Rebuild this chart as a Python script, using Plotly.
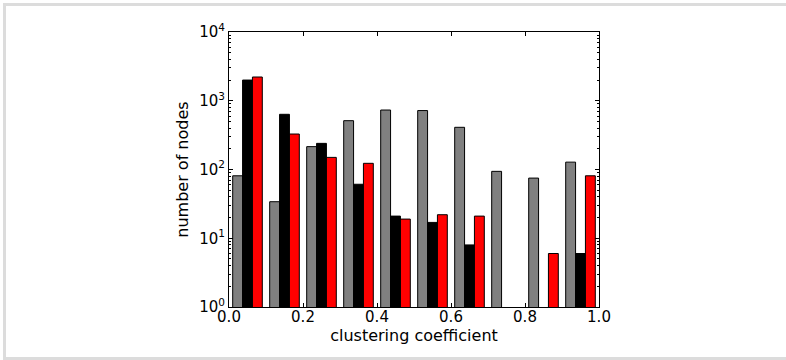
import plotly.graph_objects as go

bin_edges = [0.0, 0.1, 0.2, 0.3, 0.4, 0.5, 0.6, 0.7, 0.8, 0.9, 1.0]
series_names = ["gray", "black", "red"]
gray_counts = [81, 34, 215, 513, 733, 720, 411, 94, 75, 128]
black_counts = [2000, 635, 240, 61, 21, 17, 8, None, None, 6]
red_counts = [2215, 328, 150, 123, 19, 22, 21, None, 6, 81]
colors = ["#808080", "#000000", "#ff0000"]
y_tickvals = [1, 10, 100, 1000, 10000]
y_ticktext = ["10<sup>0</sup>", "10<sup>1</sup>", "10<sup>2</sup>", "10<sup>3</sup>", "10<sup>4</sup>"]
x_tickvals = [0.0, 0.2, 0.4, 0.6, 0.8, 1.0]
x_ticktext = ["0.0", "0.2", "0.4", "0.6", "0.8", "1.0"]

W, H = 786, 360
L, R, T, B = 229, 187, 32, 53
pw, ph = W - L - R, H - T - B

fig = go.Figure()
nser = 3
for i, (name, vals, col) in enumerate(zip(series_names, [gray_counts, black_counts, red_counts], colors)):
    xs, ws = [], []
    for k in range(len(bin_edges) - 1):
        bw = bin_edges[k + 1] - bin_edges[k]
        w = 0.8 * bw / nser
        xs.append(bin_edges[k] + 0.1 * bw + w * (i + 0.5))
        ws.append(w)
    fig.add_trace(go.Bar(x=xs, y=vals, width=ws, name=name,
                         marker=dict(color=col, line=dict(color="#000000", width=1))))

minor_vals = [m * 10 ** e for e in range(0, 4) for m in range(2, 10)]

fig.update_layout(
    width=W, height=H,
    margin=dict(l=L, r=R, t=T, b=B, pad=0),
    barmode="overlay",
    showlegend=False,
    plot_bgcolor="white", paper_bgcolor="white",
    font=dict(family="DejaVu Sans", color="#000000", size=15),
    xaxis=dict(range=[0, 1], tickvals=x_tickvals, ticktext=x_ticktext,
               ticks="inside", ticklen=4, tickwidth=1, tickcolor="black",
               showline=True, linecolor="black", linewidth=1, mirror="ticks",
               showgrid=False, zeroline=False, tickfont=dict(size=15),
               ticklabelstandoff=-4,
               title=dict(text="clustering coefficient", font=dict(size=16), standoff=2)),
    yaxis=dict(type="log", range=[0, 4], tickvals=y_tickvals, ticktext=y_ticktext,
               ticks="inside", ticklen=4, tickwidth=1, tickcolor="black",
               showline=True, linecolor="black", linewidth=1, mirror="ticks",
               showgrid=False, zeroline=False, tickfont=dict(size=15),
               minor=dict(tickvals=minor_vals, ticks="inside", ticklen=2, tickcolor="black", showgrid=False),
               title=dict(text="number of nodes", font=dict(size=16), standoff=6)),
)

def px_to_paper(x, y):
    return (x - L) / pw, (H - B - y) / ph

x0, y0 = px_to_paper(4.5, 4.5)
x1, y1 = px_to_paper(790, 358.5)
fig.add_shape(type="rect", xref="paper", yref="paper", x0=x0, y0=y1, x1=x1, y1=y0,
              line=dict(color="#dcdcdc", width=3), fillcolor="rgba(0,0,0,0)", layer="below")

fig.write_html("out.html")
